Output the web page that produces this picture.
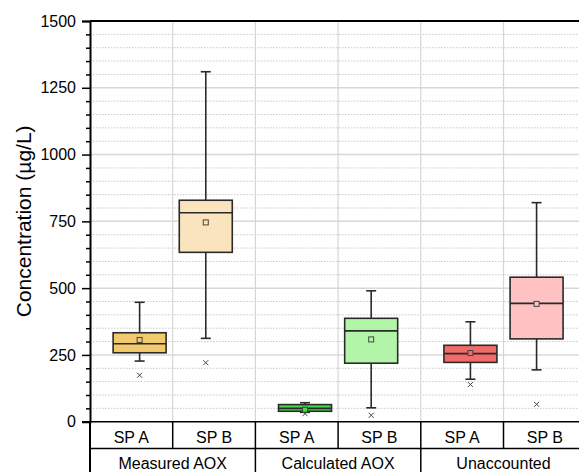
<!DOCTYPE html>
<html>
<head>
<meta charset="utf-8">
<script src="https://cdn.jsdelivr.net/npm/d3@7"></script>
<style>
  body { margin: 0; background: #fff; }
  text { font-family: 'Liberation Sans', Arial, sans-serif; fill: #000; }
</style>
</head>
<body>
<div id="chart"></div>
<script>
// data
let groups = ['Measured AOX', 'Calculated AOX', 'Unaccounted']
let sites = ['SP A', 'SP B']
let whiskerLow = [227, 312, 35, 52, 159, 194]
let q1 = [258, 634, 39, 219, 222, 310]
let median = [292, 782, 50, 340, 255, 443]
let q3 = [333, 829, 64, 387, 286, 541]
let whiskerHigh = [447, 1310, 71, 490, 374, 820]
let means = [306, 746, 45, 308, 257, 441]
let outliers = [174, 221, 30, 24, 139, 65]
let yTicks = [0, 250, 500, 750, 1000, 1250, 1500]

let colors = ['#f2c96d', '#f9e4bd', '#44dc44', '#b2f5a8', '#f26a6a', '#ffc1c1']

let width = 579
let height = 472
let margin = { top: 21, left: 90, bottom: 50 }

let boxes = []
groups.forEach((g, gi) => {
  sites.forEach((s, si) => {
    let i = gi * 2 + si
    boxes.push({
      key: g + '|' + s,
      group: g,
      site: s,
      lo: whiskerLow[i],
      q1: q1[i],
      med: median[i],
      q3: q3[i],
      hi: whiskerHigh[i],
      mean: means[i],
      out: outliers[i],
      color: colors[i]
    })
  })
})

let svg = d3
  .select('#chart')
  .append('svg')
  .attr('width', width)
  .attr('height', height)

let x = d3
  .scaleBand()
  .domain(boxes.map(d => d.key))
  .range([margin.left, margin.left + 6 * 82.7])
  .padding(0)

let y = d3
  .scaleLinear()
  .domain([0, 1500])
  .range([height - margin.bottom - 0.3, margin.top])

let minorTicks = d3.range(0, 1501, 50).filter(d => d % 250 !== 0)

let right = x.range()[1]

// minor grid (dotted)
svg
  .append('g')
  .selectAll('line')
  .data(minorTicks)
  .enter()
  .append('line')
  .attr('x1', margin.left)
  .attr('x2', right)
  .attr('y1', d => y(d))
  .attr('y2', d => y(d))
  .attr('stroke', '#c8c8c8')
  .attr('stroke-width', 1)
  .attr('stroke-dasharray', '1.5,1.5')

// major grid
svg
  .append('g')
  .selectAll('line')
  .data(yTicks.slice(1, -1))
  .enter()
  .append('line')
  .attr('x1', margin.left)
  .attr('x2', right)
  .attr('y1', d => y(d))
  .attr('y2', d => y(d))
  .attr('stroke', '#d8d8d8')
  .attr('stroke-width', 1.5)

// vertical grid at band edges
svg
  .append('g')
  .selectAll('line')
  .data(boxes.slice(1))
  .enter()
  .append('line')
  .attr('x1', d => x(d.key))
  .attr('x2', d => x(d.key))
  .attr('y1', y(1500))
  .attr('y2', y(0))
  .attr('stroke', '#d6d6d6')
  .attr('stroke-width', 1.2)

// box plots: SP A sits right of its band centre, SP B left of it
let bw = x.bandwidth()
let boxW = 53
let capW = 10
let cx = d => x(d.key) + (d.site === 'SP A' ? bw * 0.6 : bw * 0.4)

let bg = svg
  .append('g')
  .selectAll('.box')
  .data(boxes)
  .enter()
  .append('g')
  .attr('class', 'box')

bg.append('line')
  .attr('x1', cx)
  .attr('x2', cx)
  .attr('y1', d => y(d.q3))
  .attr('y2', d => y(d.hi))
  .attr('stroke', '#2a2a2a')
  .attr('stroke-width', 1.6)

bg.append('line')
  .attr('x1', cx)
  .attr('x2', cx)
  .attr('y1', d => y(d.q1))
  .attr('y2', d => y(d.lo))
  .attr('stroke', '#2a2a2a')
  .attr('stroke-width', 1.6)

bg.selectAll('.cap')
  .data(d => [d.lo, d.hi].map(v => ({ v: v, c: cx(d) })))
  .enter()
  .append('line')
  .attr('x1', d => d.c - capW / 2)
  .attr('x2', d => d.c + capW / 2)
  .attr('y1', d => y(d.v))
  .attr('y2', d => y(d.v))
  .attr('stroke', '#2a2a2a')
  .attr('stroke-width', 1.6)

bg.append('rect')
  .attr('x', d => cx(d) - boxW / 2)
  .attr('width', boxW)
  .attr('y', d => y(d.q3))
  .attr('height', d => y(d.q1) - y(d.q3))
  .attr('fill', d => d.color)
  .attr('stroke', '#2a2a2a')
  .attr('stroke-width', 1.6)

bg.append('line')
  .attr('x1', d => cx(d) - boxW / 2)
  .attr('x2', d => cx(d) + boxW / 2)
  .attr('y1', d => y(d.med))
  .attr('y2', d => y(d.med))
  .attr('stroke', '#2a2a2a')
  .attr('stroke-width', 1.6)

// mean square
bg.append('rect')
  .attr('x', d => cx(d) - 2.5)
  .attr('y', d => y(d.mean) - 2.5)
  .attr('width', 5)
  .attr('height', 5)
  .attr('fill', d => d.color)
  .attr('stroke', '#444')
  .attr('stroke-width', 1)

// outlier cross
bg.append('path')
  .attr('d', d => {
    let px = cx(d)
    let py = y(d.out)
    return `M${px - 2.5},${py - 2.5}L${px + 2.5},${py + 2.5}M${px - 2.5},${py + 2.5}L${px + 2.5},${py - 2.5}`
  })
  .attr('stroke', '#444')
  .attr('stroke-width', 1)
  .attr('fill', 'none')

// y axis
let yAxis = svg
  .append('g')
  .attr('transform', `translate(${margin.left},0)`)
  .call(
    d3
      .axisLeft(y)
      .tickValues(yTicks)
      .tickSize(8)
      .tickPadding(6)
      .tickFormat(d3.format('d'))
  )

yAxis.select('.domain').attr('stroke-width', 2).attr('stroke', '#000')
yAxis.selectAll('.tick line').attr('stroke-width', 1.5).attr('stroke', '#000')
yAxis
  .selectAll('.tick text')
  .attr('font-size', 16)
  .attr('font-family', "'Liberation Sans', Arial, sans-serif")

svg
  .append('g')
  .attr('transform', `translate(${margin.left},0)`)
  .call(
    d3
      .axisLeft(y)
      .tickValues(minorTicks)
      .tickSize(4)
      .tickFormat('')
  )
  .call(g => g.select('.domain').remove())
  .selectAll('.tick line')
  .attr('stroke-width', 1.5)
  .attr('stroke', '#000')

// top frame line
svg
  .append('line')
  .attr('x1', margin.left)
  .attr('x2', right)
  .attr('y1', y(1500))
  .attr('y2', y(1500))
  .attr('stroke', '#000')
  .attr('stroke-width', 2)

// y label
svg
  .append('text')
  .text('Concentration (µg/L)')
  .attr('font-size', 21)
  .attr('text-anchor', 'middle')
  .attr('transform', `translate(31,${(y(0) + y(1500)) / 2}) rotate(-90)`)

// category table under the axis
let row1 = y(0)
let row2 = row1 + 26.7
let tbl = svg.append('g')

tbl.append('line')
  .attr('x1', margin.left - 8)
  .attr('x2', right)
  .attr('y1', row1)
  .attr('y2', row1)
  .attr('stroke', '#000')
  .attr('stroke-width', 1.5)

tbl.append('line')
  .attr('x1', margin.left)
  .attr('x2', right)
  .attr('y1', row2)
  .attr('y2', row2)
  .attr('stroke', '#000')
  .attr('stroke-width', 1.5)

tbl.append('line')
  .attr('x1', margin.left)
  .attr('x2', margin.left)
  .attr('y1', row1)
  .attr('y2', height)
  .attr('stroke', '#000')
  .attr('stroke-width', 2)

tbl.selectAll('.sep')
  .data(boxes.slice(1))
  .enter()
  .append('line')
  .attr('x1', d => x(d.key))
  .attr('x2', d => x(d.key))
  .attr('y1', row1)
  .attr('y2', d => (d.site === 'SP A' ? height : row2))
  .attr('stroke', '#000')
  .attr('stroke-width', 1.5)

tbl.selectAll('.site-label')
  .data(boxes)
  .enter()
  .append('text')
  .text(d => d.site)
  .attr('font-size', 16)
  .attr('text-anchor', 'middle')
  .attr('x', d => x(d.key) + bw / 2)
  .attr('y', row1 + 21.5)

tbl.selectAll('.group-label')
  .data(groups)
  .enter()
  .append('text')
  .text(d => d)
  .attr('font-size', 16)
  .attr('text-anchor', 'middle')
  .attr('x', d => x(d + '|SP A') + bw)
  .attr('y', row2 + 21)
</script>
</body>
</html>
